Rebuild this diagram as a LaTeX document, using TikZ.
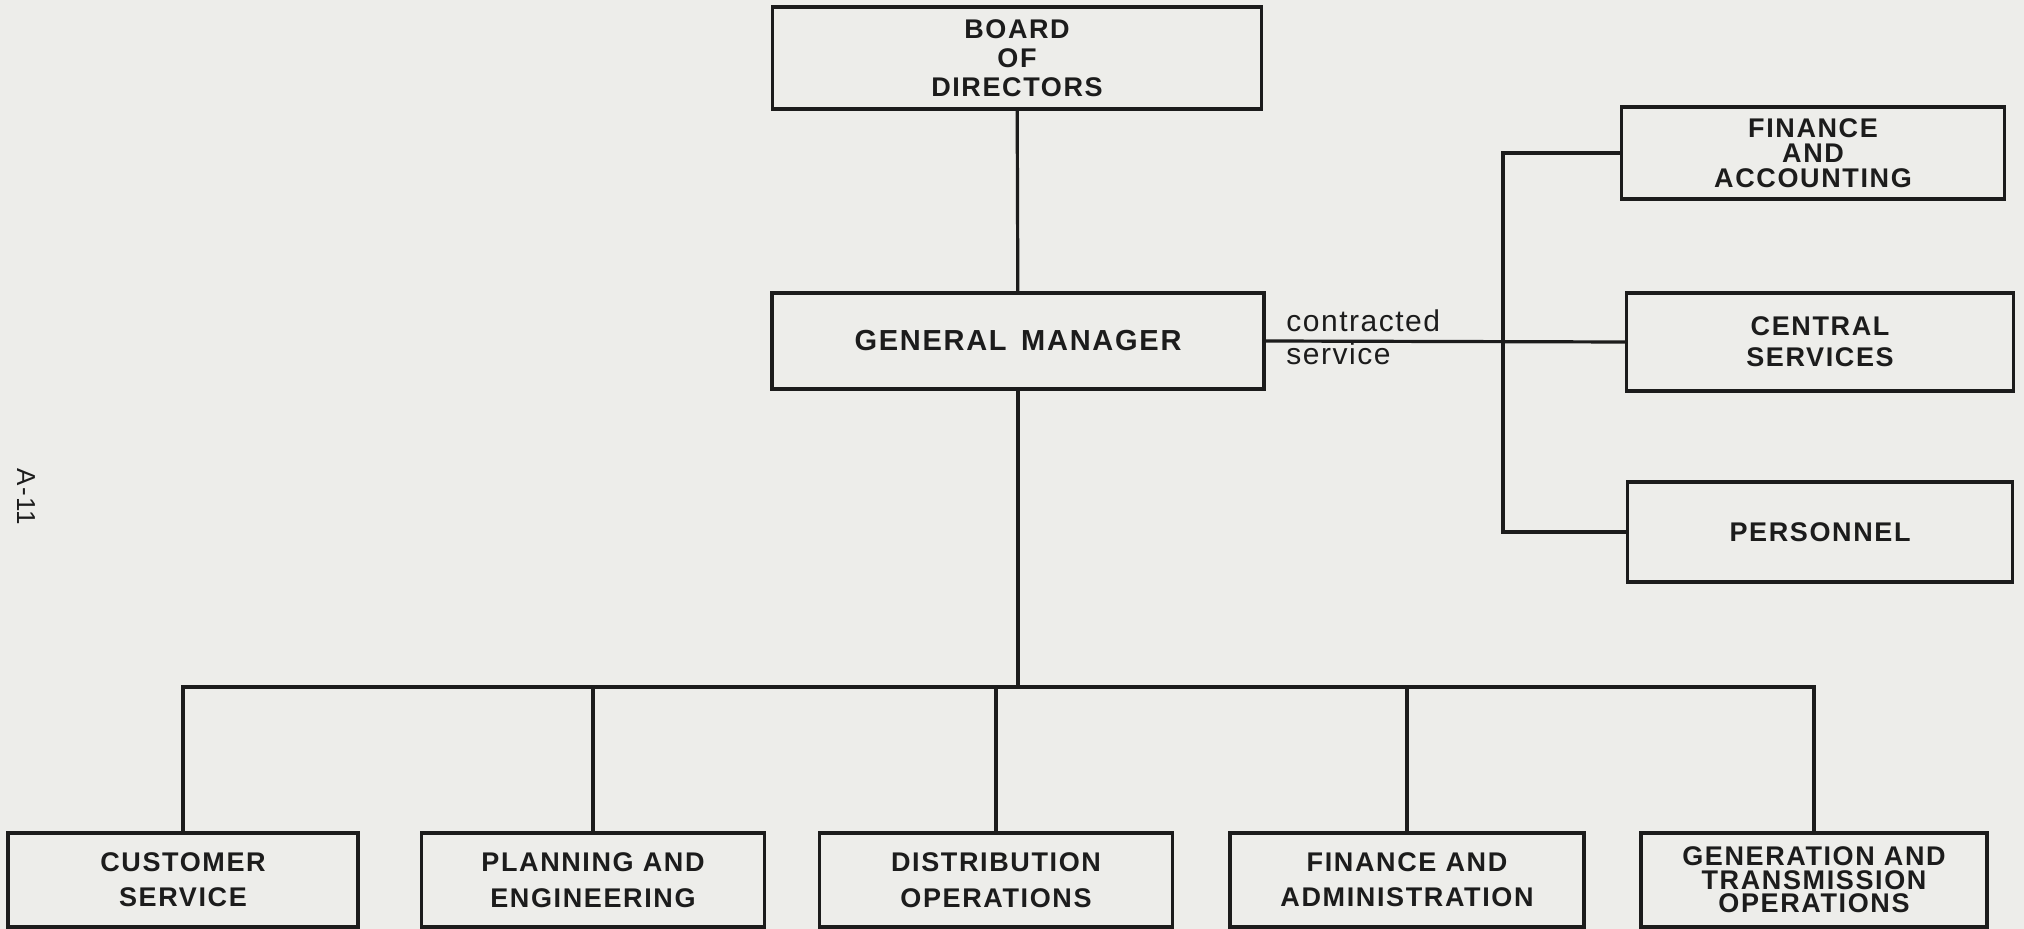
\documentclass[tikz,border=0pt]{standalone}
\usepackage{fontspec}
\setmainfont{Liberation Sans}
\newfontfamily\chartfont[LetterSpace=6]{Liberation Sans}
\newfontfamily\notefont[LetterSpace=5]{Liberation Sans}
\usepackage{tikz}
\usetikzlibrary{
        positioning,
        calc
    }
\definecolor{paper}{RGB}{237,237,234}
\definecolor{ink}{RGB}{28,28,28}
\newcommand{\unitfont}[2]{\chartfont\bfseries\fontsize{#1}{#2}\selectfont}
\tikzset{unit/.style={draw=ink,line width=1.6pt,align=center,text=ink,inner sep=2pt}}
\tikzset{wh/.style 2 args={minimum width=#1*0.5pt,minimum height=#2*0.5pt}}
\tikzset{link/.style={draw=ink,line width=1.6pt}}

\begin{document}
\begin{tikzpicture}[x=0.5pt,y=-0.5pt]
			\useasboundingbox (0,0) rectangle (2024,929);
			\fill[paper] (0,0) rectangle (2024,929);
			\node[unit,wh={489}{102},font=\unitfont{13.5}{14.5}] (board) at (1017,58) {BOARD\\OF\\DIRECTORS};
			\node[unit,wh={492}{96},font=\unitfont{14.5}{16}] (gm) at (1018,341) {GENERAL\hspace{0.5em}MANAGER};
			\node[unit,wh={383}{92},font=\unitfont{13.5}{12.5}] (acct) at (1813,153) {FINANCE\\AND\\ACCOUNTING};
			\node[unit,wh={387}{98},font=\unitfont{13.5}{15.5}] (cserv) at (1820,342) {CENTRAL\\SERVICES};
			\node[unit,wh={385}{100},font=\unitfont{13.5}{15}] (pers) at (1820,532) {PERSONNEL};
			\node[unit,wh={350}{94},font=\unitfont{13.5}{17.5}] (cust) at (183,880) {CUSTOMER\\SERVICE};
			\node[unit,wh={343}{94},font=\unitfont{13.5}{18}] (plan) at (593,880) {PLANNING AND\\ENGINEERING};
			\node[unit,wh={353}{94},font=\unitfont{13.5}{18}] (dist) at (996,880) {DISTRIBUTION\\OPERATIONS};
			\node[unit,wh={354}{94},font=\unitfont{13.5}{17.5}] (fina) at (1407,880) {FINANCE AND\\ADMINISTRATION};
			\node[unit,wh={346}{94},font=\unitfont{13.5}{11.75}] (gent) at (1814,880) {GENERATION AND\\TRANSMISSION\\OPERATIONS};
			\node[rotate=-90,text=ink,font=\notefont\fontsize{13}{15}\selectfont] (page) at (26,497) {A-11};
			\coordinate (bus) at (0,687);
			\coordinate (branch) at (1503,341);
			\path[link]
				(board) edge (gm);
			\draw[link] (gm) -- (gm.south |- bus);
			\draw[link] (cust.north) -- (cust.north |- bus) -- (gent.north |- bus) -- (gent.north);
			\foreach \n in {plan,dist,fina}
				\draw[link] (\n.north) -- (\n.north |- bus);
			\draw[link] (gm.east) -- (cserv.west)
				node[pos=0.035,anchor=west,yshift=2pt,align=left,text=ink,font=\notefont\fontsize{15}{16.5}\selectfont] (note) {contracted\\service};
			\draw[link] (acct.west) -| (branch) |- (pers.west);
		\end{tikzpicture}
\end{document}
